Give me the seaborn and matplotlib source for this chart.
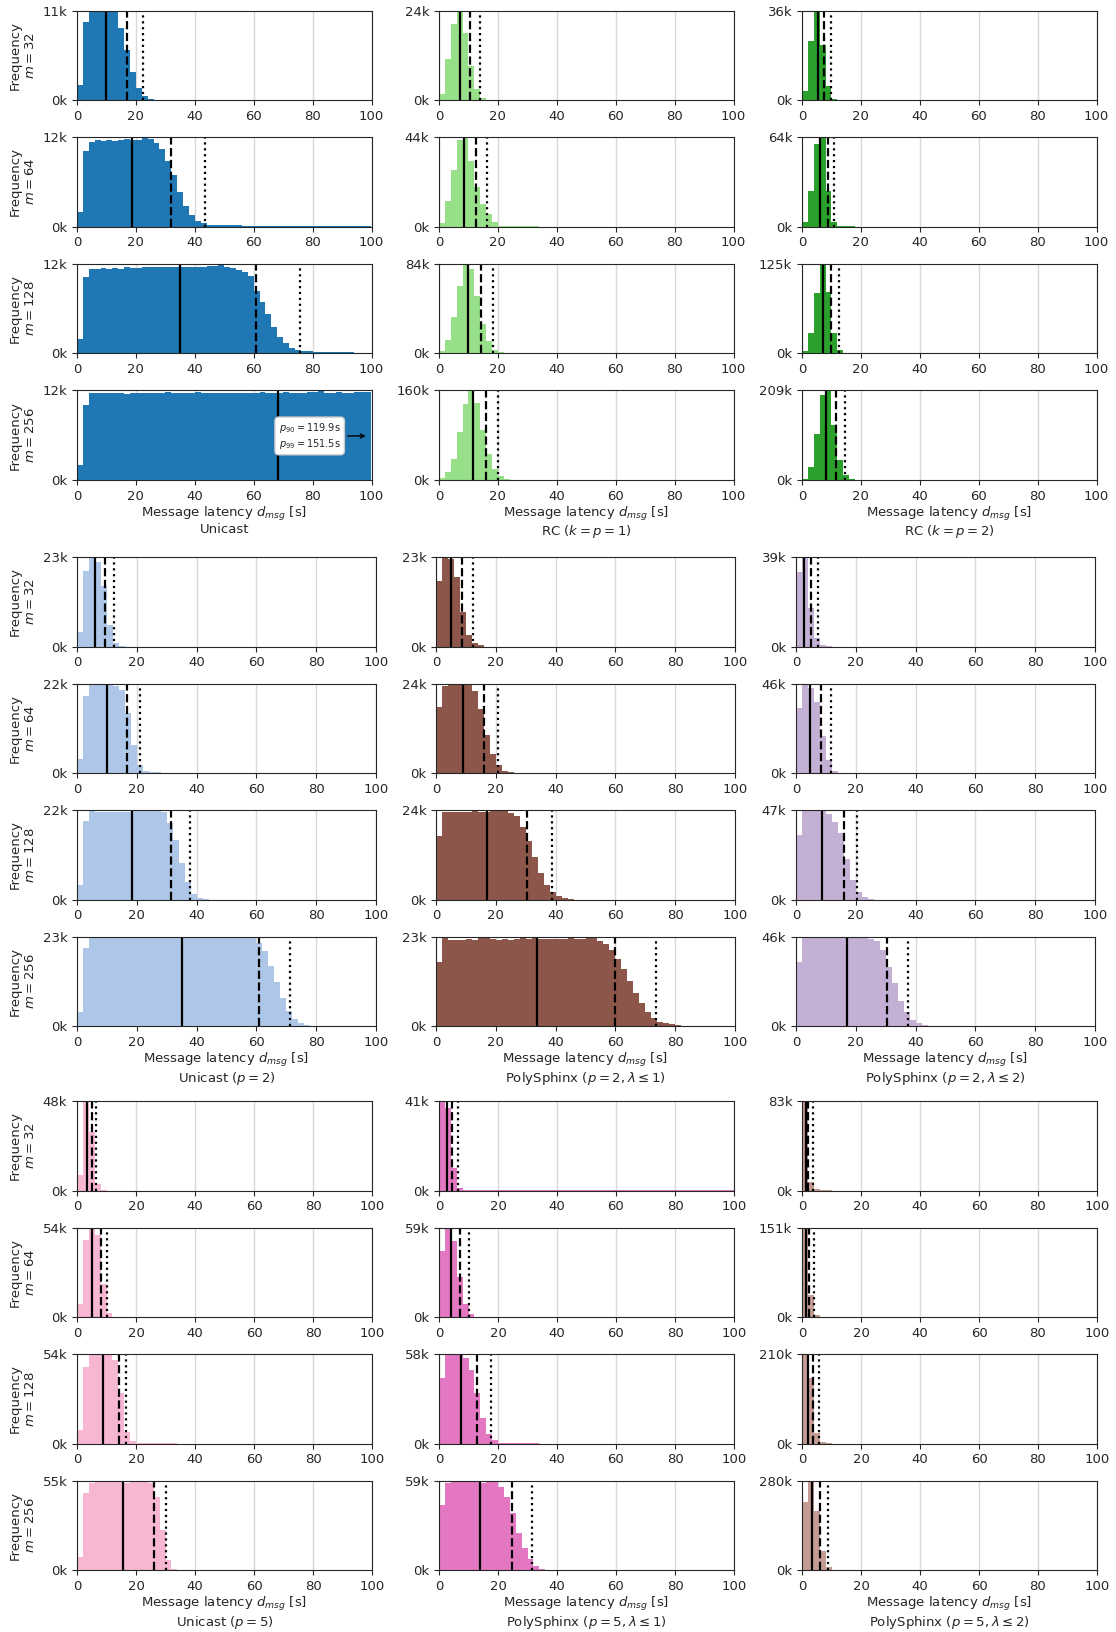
import numpy as np
import matplotlib
matplotlib.use("Agg")
import matplotlib.pyplot as plt
import seaborn as sns

# bins of 2 s from 0 to 100 s; heights below are counts in thousands (bin 0-2, 2-4, ...)
BIN_WIDTH = 2
M_VALUES = [32, 64, 128, 256]

UNICAST = [
    [1.8, 9.6, 10.8, 11.0, 10.9, 10.9, 10.8, 8.8, 6.2, 3.4, 1.5, 0.5, 0.13],
    [1.9, 10.1, 11.3, 11.6, 11.5, 11.6, 11.5, 11.6, 11.7, 11.6, 11.6, 12.0, 11.7, 11.2, 10.4, 8.8,
     6.9, 4.6, 2.8, 1.5, 0.8, 0.45, 0.25, 0.22, 0.2, 0.2, 0.18, 0.15, 0.1, 0.08, 0.08, 0.07, 0.06,
     0.06, 0.05, 0.05, 0.05, 0.04, 0.04, 0.04, 0.03, 0.03, 0.03, 0.03, 0.02, 0.02, 0.02, 0.02, 0.02, 0.02],
    [1.9, 10.1, 11.2, 11.2, 11.3, 11.2, 11.3, 11.2, 11.4, 11.3, 11.3, 11.5, 11.5, 11.4, 11.5, 11.4,
     11.4, 11.5, 11.5, 11.4, 11.4, 11.5, 11.6, 11.6, 11.9, 11.5, 11.3, 11.0, 10.8, 10.3, 8.3, 6.8,
     5.2, 3.5, 2.2, 1.3, 0.7, 0.45, 0.3, 0.25, 0.2, 0.2, 0.15, 0.15, 0.12, 0.1, 0.1, 0.08, 0.05],
    [2.0, 10.0, 11.6, 11.7, 11.6, 11.7, 11.6, 11.7, 11.5, 11.6, 11.7, 11.7, 11.6, 11.7, 11.7, 11.8,
     11.7, 11.7, 11.6, 11.7, 11.8, 11.7, 11.6, 11.6, 11.7, 11.7, 11.6, 11.6, 11.7, 11.7, 11.6, 11.8,
     11.7, 11.7, 11.6, 11.8, 11.7, 11.6, 11.7, 11.8, 11.8, 12.0, 11.7, 11.7, 11.8, 11.7, 11.7, 11.8, 11.8, 11.8],
]
RC_K1 = [
    [1.7, 11.0, 20.3, 24.0, 18.1, 9.1, 2.9, 0.6, 0.1],
    [1.9, 12.4, 27.7, 42.6, 44.0, 32.1, 19.4, 11.0, 6.0, 2.1, 0.5, 0.15, 0.1, 0.08, 0.06, 0.05,
     0.05, 0.04, 0.04, 0.03, 0.03, 0.03, 0.03, 0.02, 0.02, 0.02, 0.02, 0.02, 0.02, 0.02],
    [2.0, 12.8, 33.6, 62.9, 84.0, 78.6, 53.9, 27.6, 11.5, 3.0, 1.0, 0.2],
    [2.5, 14.4, 37.5, 85.6, 135.0, 160.0, 138.0, 89.0, 45.6, 19.4, 6.3, 1.0, 0.2],
]
RC_K2 = [
    [3.6, 23.6, 36.0, 22.2, 5.5, 0.6, 0.05],
    [3.6, 25.4, 58.9, 64.0, 25.2, 3.6, 0.5, 0.1, 0.08, 0.06, 0.05, 0.05, 0.04, 0.04, 0.03, 0.03,
     0.03, 0.03, 0.02, 0.02, 0.02, 0.02, 0.02, 0.02, 0.02],
    [2.5, 27.8, 84.5, 125.0, 86.0, 28.8, 4.0, 0.5],
    [2.5, 29.7, 107.6, 199.0, 209.0, 128.8, 46.6, 10.2, 1.0],
]
UNICAST_P2 = [
    [3.7, 19.6, 23.2, 21.8, 15.8, 5.6, 0.9, 0.1],
    [3.5, 18.9, 22.0, 21.7, 22.0, 22.0, 21.5, 20.4, 14.8, 6.8, 2.0, 0.6, 0.2, 0.15],
    [3.6, 19.5, 22.0, 21.9, 21.8, 21.8, 21.9, 21.8, 21.9, 22.0, 22.3, 22.1, 22.0, 22.0, 21.8, 19.1,
     14.9, 9.2, 4.4, 1.5, 0.4, 0.1],
    [3.6, 20.0, 22.8, 22.9, 22.9, 22.8, 22.9, 22.9, 22.8, 22.9, 22.9, 22.9, 22.9, 22.9, 22.9, 23.0,
     22.9, 22.8, 22.9, 22.8, 22.8, 22.9, 22.9, 22.9, 22.8, 22.8, 22.9, 22.8, 22.8, 22.7, 21.4, 19.3,
     15.5, 11.5, 7.3, 4.0, 1.9, 0.9, 0.4, 0.15, 0.05],
]
PS_P2_L1 = [
    [16.9, 23.2, 22.8, 18.1, 9.0, 3.0, 1.0, 0.3],
    [17.6, 23.4, 24.0, 23.5, 23.5, 23.5, 22.1, 17.3, 10.1, 5.2, 2.1, 0.6, 0.2],
    [17.3, 23.7, 23.8, 23.8, 23.8, 23.8, 23.9, 23.8, 23.8, 23.9, 24.0, 24.2, 23.5, 22.5, 19.6, 15.9,
     11.5, 7.1, 3.9, 2.2, 1.0, 0.4, 0.1],
    [16.4, 22.6, 22.3, 22.3, 22.2, 22.5, 22.3, 22.6, 23.0, 22.4, 22.3, 22.4, 22.3, 22.5, 22.6, 22.4,
     23.0, 22.5, 22.4, 22.4, 22.5, 22.5, 22.6, 22.4, 22.4, 22.9, 22.6, 22.0, 21.1, 19.7, 17.2, 14.8,
     11.7, 8.5, 5.9, 3.8, 2.2, 1.2, 0.75, 0.5, 0.4, 0.2, 0.1, 0.1, 0.08, 0.06, 0.05, 0.05, 0.04, 0.03],
]
PS_P2_L2 = [
    [32.7, 39.3, 16.9, 3.8, 0.8, 0.1],
    [33.7, 46.0, 43.8, 36.3, 19.2, 6.5, 1.3, 0.2],
    [34.0, 47.0, 46.4, 47.0, 46.4, 44.9, 40.7, 34.9, 21.5, 10.4, 3.8, 1.3, 0.3],
    [33.0, 46.0, 45.8, 45.9, 45.9, 45.8, 45.9, 45.8, 45.2, 46.0, 45.7, 45.6, 45.0, 43.7, 39.0, 30.6,
     22.1, 13.1, 7.1, 3.4, 1.5, 0.75, 0.3, 0.1],
]
UNICAST_P5 = [
    [8.2, 48.0, 31.6, 3.3, 0.4],
    [8.1, 46.8, 54.0, 49.7, 19.9, 2.4, 0.3],
    [8.3, 46.4, 54.0, 54.0, 54.0, 53.6, 50.3, 30.6, 7.2, 1.5, 0.5, 0.4, 0.3, 0.2, 0.2, 0.15, 0.15,
     0.1, 0.1, 0.1, 0.08, 0.08, 0.06, 0.06, 0.05, 0.05, 0.05, 0.04, 0.04, 0.04, 0.03, 0.03, 0.03,
     0.03, 0.02, 0.02, 0.02, 0.02, 0.02, 0.02, 0.02, 0.02, 0.02, 0.02, 0.02, 0.02, 0.02, 0.02, 0.02, 0.02],
    [7.9, 47.2, 53.9, 54.6, 54.8, 54.8, 54.8, 54.8, 53.9, 55.0, 54.8, 54.4, 53.9, 44.9, 24.7, 6.3, 0.9, 0.2],
]
PS_P5_L1 = [
    [41.0, 37.8, 10.3, 1.3, 0.3, 0.1, 0.08, 0.06, 0.05, 0.04, 0.04, 0.03, 0.03, 0.03, 0.02, 0.02,
     0.02, 0.02, 0.02, 0.02, 0.02, 0.015, 0.015, 0.015, 0.015, 0.015, 0.015, 0.015, 0.01, 0.01, 0.01,
     0.01, 0.01, 0.01, 0.01, 0.01, 0.01, 0.01, 0.01, 0.01, 0.01, 0.01, 0.01, 0.01, 0.01, 0.01, 0.01,
     0.01, 0.01, 0.01],
    [43.9, 59.0, 50.4, 26.7, 8.8, 1.9, 0.3],
    [42.7, 58.0, 58.0, 57.5, 55.6, 47.7, 32.9, 16.4, 6.3, 2.1, 0.6, 0.5, 0.4, 0.2, 0.2, 0.15, 0.15,
     0.1, 0.1, 0.1, 0.08, 0.08, 0.06, 0.06, 0.05, 0.05, 0.05, 0.04, 0.04, 0.04, 0.03, 0.03, 0.03,
     0.03, 0.02, 0.02, 0.02, 0.02, 0.02, 0.02, 0.02, 0.02, 0.02, 0.02, 0.02, 0.02, 0.02, 0.02, 0.02, 0.02],
    [42.9, 57.8, 59.2, 58.3, 58.3, 59.0, 58.3, 57.8, 59.0, 58.3, 55.4, 48.7, 38.1, 24.6, 14.5, 7.7, 2.9, 1.0, 0.5],
]
PS_P5_L2 = [
    [83.0, 8.1, 1.0, 0.2, 0.1],
    [151.0, 37.9, 3.7, 0.3],
    [210.0, 154.8, 25.5, 3.4, 0.6, 0.3, 0.2, 0.1],
    [213.7, 280.0, 185.0, 60.6, 11.4, 1.0],
]

# (median, p90, p99) in seconds for m = 32, 64, 128, 256
UNICAST_PCT = [(10.0, 16.9, 22.4), (18.6, 31.9, 43.4), (35.0, 60.8, 75.7), (68.3, 119.9, 151.5)]
RC_K1_PCT = [(7.0, 10.6, 14.0), (8.5, 12.6, 16.2), (9.8, 14.4, 18.4), (11.4, 16.1, 20.2)]
RC_K2_PCT = [(5.3, 7.6, 9.7), (6.1, 8.7, 10.7), (7.1, 9.9, 12.4), (8.2, 11.6, 14.6)]
UNICAST_P2_PCT = [(6.0, 9.5, 12.5), (10.0, 16.7, 21.2), (18.4, 31.4, 37.9), (35.0, 60.9, 71.4)]
PS_P2_L1_PCT = [(5.0, 8.6, 12.3), (8.9, 15.9, 20.8), (17.1, 30.4, 38.7), (33.7, 59.7, 73.7)]
PS_P2_L2_PCT = [(2.7, 4.9, 7.5), (4.7, 8.5, 11.8), (8.8, 15.9, 20.5), (16.9, 30.3, 37.6)]
UNICAST_P5_PCT = [(3.4, 5.2, 6.6), (5.2, 8.1, 10.1), (8.7, 14.1, 16.7), (15.6, 26.1, 30.1)]
PS_P5_L1_PCT = [(2.6, 4.4, 6.6), (4.1, 7.1, 10.3), (7.4, 13.0, 17.5), (13.9, 24.8, 31.4)]
PS_P5_L2_PCT = [(1.2, 2.0, 3.6), (1.5, 2.4, 4.1), (2.0, 3.7, 5.8), (3.4, 6.0, 8.7)]

TITLES = [
    ["Unicast", r"RC ($k = p = 1$)", r"RC ($k = p = 2$)"],
    [r"Unicast ($p = 2$)", r"PolySphinx ($p = 2, \lambda \leq 1$)", r"PolySphinx ($p = 2, \lambda \leq 2$)"],
    [r"Unicast ($p = 5$)", r"PolySphinx ($p = 5, \lambda \leq 1$)", r"PolySphinx ($p = 5, \lambda \leq 2$)"],
]
DATA = [
    [(UNICAST, UNICAST_PCT), (RC_K1, RC_K1_PCT), (RC_K2, RC_K2_PCT)],
    [(UNICAST_P2, UNICAST_P2_PCT), (PS_P2_L1, PS_P2_L1_PCT), (PS_P2_L2, PS_P2_L2_PCT)],
    [(UNICAST_P5, UNICAST_P5_PCT), (PS_P5_L1, PS_P5_L1_PCT), (PS_P5_L2, PS_P5_L2_PCT)],
]
COLORS = [
    ["#1f77b4", "#98df8a", "#2ca02c"],
    ["#aec7e8", "#8c564b", "#c5b0d5"],
    ["#f7b6d2", "#e377c2", "#c49c94"],
]

sns.set_style("ticks")
plt.rcParams.update({
    "font.family": ["DejaVu Sans"],
    "font.size": 9.5,
    "axes.labelsize": 9.5,
    "xtick.labelsize": 9.5,
    "ytick.labelsize": 9.5,
})

W, H = 1116, 1632
fig = plt.figure(figsize=(W / 100, H / 100), dpi=100)

# pixel layout of the three blocks
group_tops = [10.5, 557, 1101]
row_step = 126.6
ax_height = 89.5
col_lefts = [[77, 439, 802], [77, 436, 796], [77, 439, 802]]
col_widths = [294.5, 299, 295]

for g in range(3):
    for c in range(3):
        series, pcts = DATA[g][c]
        for r in range(4):
            top = group_tops[g] + r * row_step
            left = col_lefts[g][c]
            ax = fig.add_axes([left / W, 1 - (top + ax_height) / H,
                               col_widths[g] / W, ax_height / H])
            heights = np.array(series[r])
            centers = BIN_WIDTH * np.arange(len(heights)) + BIN_WIDTH / 2
            sns.histplot(x=centers, weights=heights, binwidth=BIN_WIDTH, binrange=(0, 100),
                         color=COLORS[g][c], alpha=1, linewidth=0, ax=ax)

            ymax = heights.max()
            ax.set_xlim(0, 100)
            ax.set_ylim(0, ymax)
            ax.set_xticks(range(0, 101, 20))
            ax.set_yticks([0, ymax])
            ax.set_yticklabels(["0k", f"{ymax:.0f}k"])
            ax.grid(axis="x", color="#d9d9d9", lw=1)
            ax.set_axisbelow(True)

            for p, ls in zip(pcts[r], ["-", "--", ":"]):
                if p < 100:
                    ax.axvline(p, color="black", lw=1.6, ls=ls)
            outside = [(q, p) for q, p in zip([90, 99], pcts[r][1:]) if p > 100]
            if outside:
                txt = "\n".join(f"$p_{{{q}}} = {p}$s" for q, p in outside)
                ax.annotate(txt, xy=(0.99, 0.49), xycoords="axes fraction",
                            xytext=(0.79, 0.49), textcoords="axes fraction",
                            ha="center", va="center", fontsize=7,
                            bbox=dict(boxstyle="round,pad=0.4", fc="white", ec="#cccccc"),
                            arrowprops=dict(arrowstyle="->", color="black", lw=1))

            ax.set_ylabel(f"Frequency\n$m = {M_VALUES[r]}$" if c == 0 else "")
            if r == 3:
                ax.set_xlabel("Message latency $d_{msg}$ [s]\n" + TITLES[g][c],
                              labelpad=1.5, linespacing=1.05)
            else:
                ax.set_xlabel("")

fig.savefig("out.png", dpi=100)
